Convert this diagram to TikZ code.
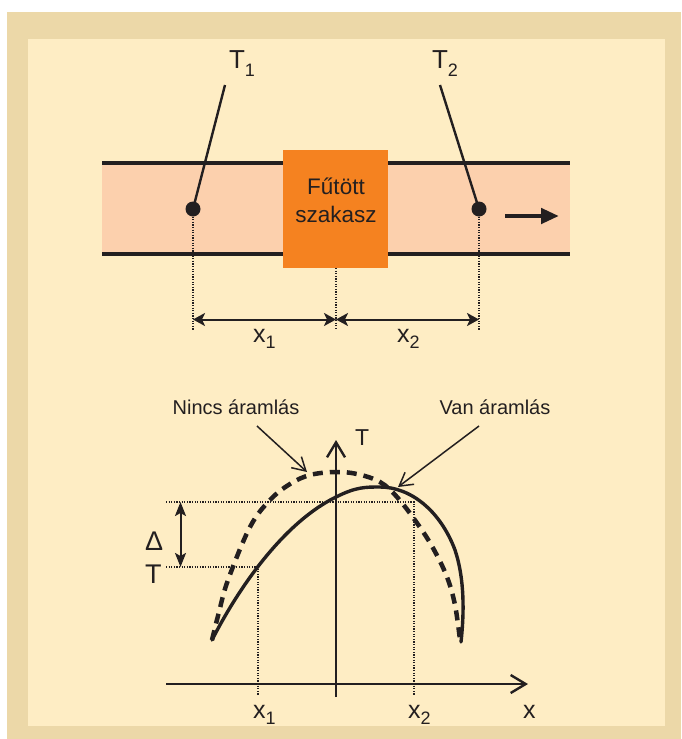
\documentclass[tikz,border=0pt]{standalone}
\usepackage{fontspec}
\setmainfont{Liberation Sans}
\usetikzlibrary{arrows.meta}
\definecolor{frametan}{HTML}{ECD8A8}
\definecolor{panelcream}{HTML}{FEEDC4}
\definecolor{pipefill}{HTML}{FCD0AD}
\definecolor{heatorange}{HTML}{F58220}
\definecolor{ink}{HTML}{231F20}
\newcommand{\fsz}[1]{\fontsize{#1}{#1}\selectfont}
\newcommand{\lowsub}[2]{\raisebox{-#2pt}{\fontsize{18}{18}\selectfont #1}}
\begin{document}
\begin{tikzpicture}[x=1pt,y=-1pt,
  every node/.style={inner sep=0pt, outer sep=0pt, text=ink},
  pipeline/.style={draw=ink, line width=3.4pt},
  leader/.style={draw=ink, line width=2.4pt},
  probe/.style={circle, fill=ink, minimum size=15pt},
  dotline/.style={draw=ink, line width=1.6pt, dash pattern=on 1.2pt off 1.4pt},
  dimarr/.style={draw=ink, line width=2pt, {Stealth[length=12pt,width=13pt,inset=3pt]}-{Stealth[length=12pt,width=13pt,inset=3pt]}},
  axisline/.style={draw=ink, line width=2.7pt, -{Straight Barb[length=15pt,width=18pt,line width=2.4pt]}},
  callout/.style={draw=ink, line width=1.5pt, -{Straight Barb[length=13pt,width=15pt,line width=1.5pt]}},
  flowcurve/.style={draw=ink, line width=3.4pt, line cap=round},
  stillcurve/.style={draw=ink, line width=4.5pt, dash pattern=on 10pt off 7pt},
  lbl/.style={font=\fsz{25}},
  smalllbl/.style={font=\fsz{20}}
]
\useasboundingbox (0,0) rectangle (681,739);
% frame
\fill[frametan] (7,12) rectangle (681,739);
\fill[panelcream] (28,39) rectangle (665,726);

% pipe
\fill[pipefill] (102,163) rectangle (570,254);
\coordinate (ptl) at (102,163); \coordinate (ptr) at (570,163);
\coordinate (pbl) at (102,254); \coordinate (pbr) at (570,254);
\draw[pipeline] (ptl) -- (ptr);
\draw[pipeline] (pbl) -- (pbr);

% heated section
\node[fill=heatorange, minimum width=105pt, minimum height=118pt] (heat) at (335.5,209) {};
\node[font=\fontsize{22.5}{28}\selectfont, align=center, anchor=base] (heattxt) at (336,222) {Fűtött\\szakasz};

% probes
\node[probe] (p1) at (193,209) {};
\node[probe] (p2) at (479,209) {};
\coordinate (t1top) at (225,85);
\coordinate (t2top) at (440,85);
\draw[leader] (t1top) -- (p1.center);
\draw[leader] (t2top) -- (p2.center);
\node[anchor=base west, font=\fsz{26}] (T1) at (229,68) {T\lowsub{1}{8}};
\node[anchor=base west, font=\fsz{26}] (T2) at (432,68) {T\lowsub{2}{8}};

% flow arrow
\coordinate (fa) at (505,216); \coordinate (fb) at (559,216);
\draw[draw=ink, line width=4.8pt, -{Triangle[length=18pt,width=15pt]}] (fa) -- (fb);

% dimension lines
\coordinate (d1) at (193,330); \coordinate (d2) at (479,330); \coordinate (dm) at (336,330);
\draw[dotline] (p1.south) -- (d1);
\draw[dotline] (p2.south) -- (d2);
\draw[dotline] (336,268) -- (dm);
\coordinate (a1) at (193,319.5); \coordinate (am) at (336,319.5); \coordinate (a2) at (479,319.5);
\draw[dimarr] (a1) -- (am);
\draw[dimarr] (am) -- (a2);
\node[anchor=base west, lbl] (X1) at (253,342) {x\lowsub{1}{6}};
\node[anchor=base west, lbl] (X2) at (397,342) {x\lowsub{2}{6}};

% graph axes
\coordinate (vb) at (336,697); \coordinate (vt) at (336,440);
\coordinate (hl) at (166,684); \coordinate (hr) at (528,684);
\draw[axisline] (vb) -- (vt);
\draw[axisline] (hl) -- (hr);
\node[anchor=base west, font=\fsz{23}] (Tax) at (355,445) {T};
\node[anchor=base west, lbl] (xax) at (523,718) {x};
\node[anchor=base west, lbl] (gx1) at (253,718) {x\lowsub{1}{6}};
\node[anchor=base west, lbl] (gx2) at (408,718) {x\lowsub{2}{6}};

% guide lines
\coordinate (g1) at (166,502); \coordinate (g2) at (414,502); \coordinate (g2b) at (414,695);
\coordinate (g3) at (166,567); \coordinate (g4) at (258,567); \coordinate (g4b) at (258,695);
\draw[dotline] (g1) -- (g2) -- (g2b);
\draw[dotline] (g3) -- (g4) -- (g4b);
\coordinate (dta) at (180.5,502); \coordinate (dtb) at (180.5,567);
\draw[draw=ink, line width=2pt, {Stealth[length=14pt,width=11pt,inset=3pt]}-{Stealth[length=14pt,width=11pt,inset=3pt]}] (dta) -- (dtb);
\node[anchor=base west, font=\fsz{27}] (dlt) at (145,550) {Δ};
\node[anchor=base west, font=\fsz{27}] (dlT) at (145,583) {T};

% curves
\draw[flowcurve] (212,640) .. controls (240,585) and (285,522) .. (336,497)
  .. controls (356,487) and (365,487) .. (380,487)
  .. controls (410,487) and (440,510) .. (455,550)
  .. controls (465,580) and (464,615) .. (461,642);
\draw[stillcurve] plot[smooth, tension=0.6] coordinates {(212,640) (219,612) (228,580) (250,527) (270,500) (290,484) (310,475) (335,472) (357,474) (380,482) (397,497) (417,523) (433,548) (447,577) (455,605) (460,640)};

% callouts
\node[smalllbl] (nincs) at (236,407) {Nincs áramlás};
\node[smalllbl] (van) at (495,407) {Van áramlás};
\coordinate (nincsS) at (257,426); \coordinate (nincsE) at (307,472);
\coordinate (vanS) at (479,426); \coordinate (vanE) at (398,487);
\draw[callout] (nincsS) -- (nincsE);
\draw[callout] (vanS) -- (vanE);
\end{tikzpicture}
\end{document}
